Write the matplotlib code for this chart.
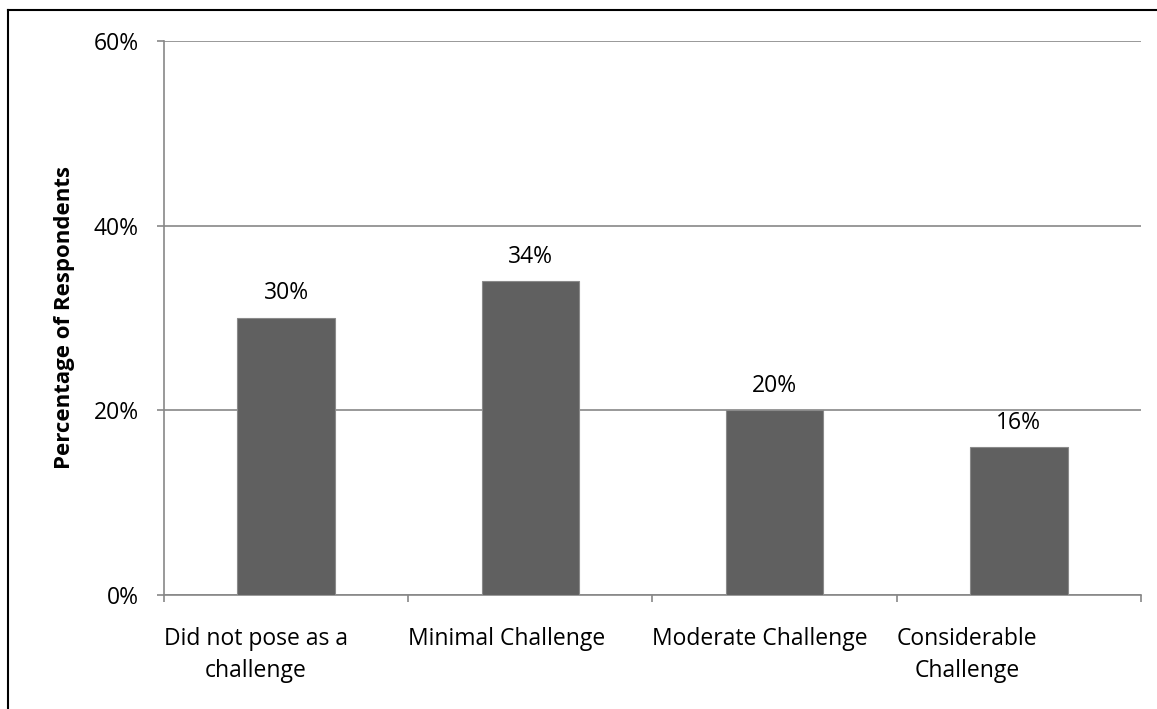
import matplotlib.pyplot as plt
from matplotlib.lines import Line2D

plt.rcParams['font.family'] = ['Open Sans', 'DejaVu Sans']

# 回答の分類と割合（%）
categories = ['Did not pose as a\nchallenge', 'Minimal Challenge',
              'Moderate Challenge', 'Considerable\nChallenge']
values = [30, 34, 20, 16]
yticks = [0, 20, 40, 60]

fig = plt.figure(figsize=(11.57, 7.09), dpi=100)
ax = fig.add_axes([0.1417, 0.1608, 0.8445, 0.7814])

x = list(range(len(categories)))
ax.bar(x, values, width=0.4, color='#606060', edgecolor='#8a8a8a', linewidth=0.8, zorder=3)

# 棒の上に値ラベル
for xi, v in zip(x, values):
    ax.annotate(f'{v}%', (xi, v), xytext=(0, 9), textcoords='offset points',
                ha='center', va='bottom', fontsize=16.5, color='black')

ax.set_xlim(-0.5, len(categories) - 0.5)
ax.set_ylim(0, 60)
ax.set_yticks(yticks)
ax.set_yticklabels([f'{t}%' for t in yticks], fontsize=16.5)
ax.yaxis.grid(True, color='#878787', linewidth=1.2, zorder=0)

# x軸の目盛りはカテゴリの境界、ラベルは境界から左寄せ
bounds = [i - 0.5 for i in range(len(categories) + 1)]
ax.set_xticks(bounds)
ax.set_xticklabels(categories + [''], fontsize=16.5, linespacing=1.45,
                   ha='left', multialignment='center')
ax.tick_params(axis='x', length=5, color='#878787', width=1.2, pad=18)
ax.tick_params(axis='y', length=5, color='#878787', width=1.2, pad=13)

for side in ['top', 'right']:
    ax.spines[side].set_visible(False)
for side in ['left', 'bottom']:
    ax.spines[side].set_color('#878787')
    ax.spines[side].set_linewidth(1.2)

ax.set_ylabel('Percentage of Respondents', fontsize=16, fontweight='bold', va='center')
ax.yaxis.set_label_coords(-0.102, 0.5)

# 外枠（左と上のみ）
fig.add_artist(Line2D([8 / 1157, 8 / 1157], [0, 1 - 10 / 709], color='black', linewidth=1.5,
                      transform=fig.transFigure))
fig.add_artist(Line2D([8 / 1157, 1], [1 - 10 / 709, 1 - 10 / 709], color='black', linewidth=1.5,
                      transform=fig.transFigure))

fig.savefig('out.png', dpi=100)
